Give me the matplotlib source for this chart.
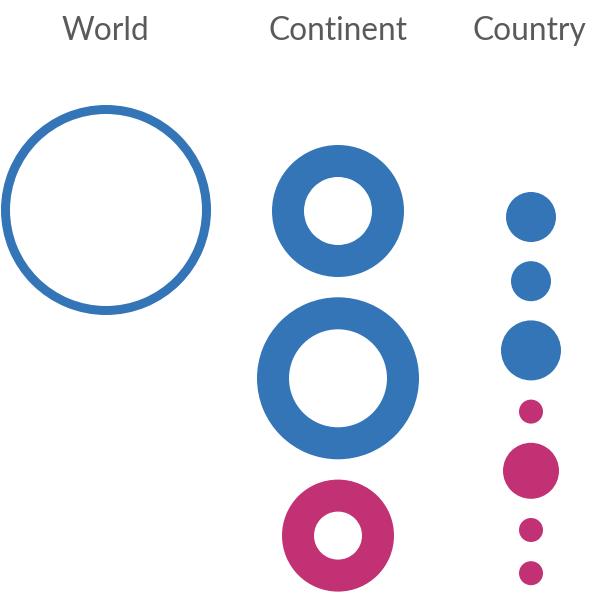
import matplotlib
matplotlib.use("Agg")
import matplotlib.pyplot as plt
from matplotlib.patches import Circle, Wedge

# ---- data ----
columns = ["World", "Continent", "Country"]
world_radius = [105]
world_ring_width = 9
continent_outer = [66, 81, 56]
continent_inner = [34, 49, 24]
continent_group = ["blue", "blue", "pink"]
country_radius = [25, 20, 30, 12, 28, 12, 12]
country_group = ["blue", "blue", "blue", "pink", "pink", "pink", "pink"]

colors = {"blue": "#3375B7", "pink": "#C13174"}

# ---- layout ----
W, H = 598, 593
col_x = [106, 338, 531]
title_x = [105, 337.5, 529.5]
title_baseline = 40
world_cy = 210
continent_top = 145
country_top = 192
continent_gap = 20.3
country_gap = 19.2

fig = plt.figure(figsize=(W / 100, H / 100), dpi=100)
ax = fig.add_axes([0, 0, 1, 1])
ax.set_xlim(0, W)
ax.set_ylim(H, 0)
ax.set_aspect("equal")
ax.axis("off")

for name, x in zip(columns, title_x):
    ax.text(x, title_baseline, name, ha="center", va="baseline", fontsize=22.8,
            color="#5a5a5a", family=["Lato", "DejaVu Sans"])

# World ring
for r in world_radius:
    ax.add_patch(Wedge((col_x[0], world_cy), r, 0, 360, width=world_ring_width,
                       facecolor=colors["blue"], edgecolor="none"))

# Continent donuts
y = continent_top
for ro, ri, g in zip(continent_outer, continent_inner, continent_group):
    cy = y + ro
    ax.add_patch(Wedge((col_x[1], cy), ro, 0, 360, width=ro - ri,
                       facecolor=colors[g], edgecolor="none"))
    y = cy + ro + continent_gap

# Country circles
y = country_top
for r, g in zip(country_radius, country_group):
    cy = y + r
    ax.add_patch(Circle((col_x[2], cy), r, facecolor=colors[g], edgecolor="none"))
    y = cy + r + country_gap

fig.savefig("out.png", dpi=100, facecolor="white")
